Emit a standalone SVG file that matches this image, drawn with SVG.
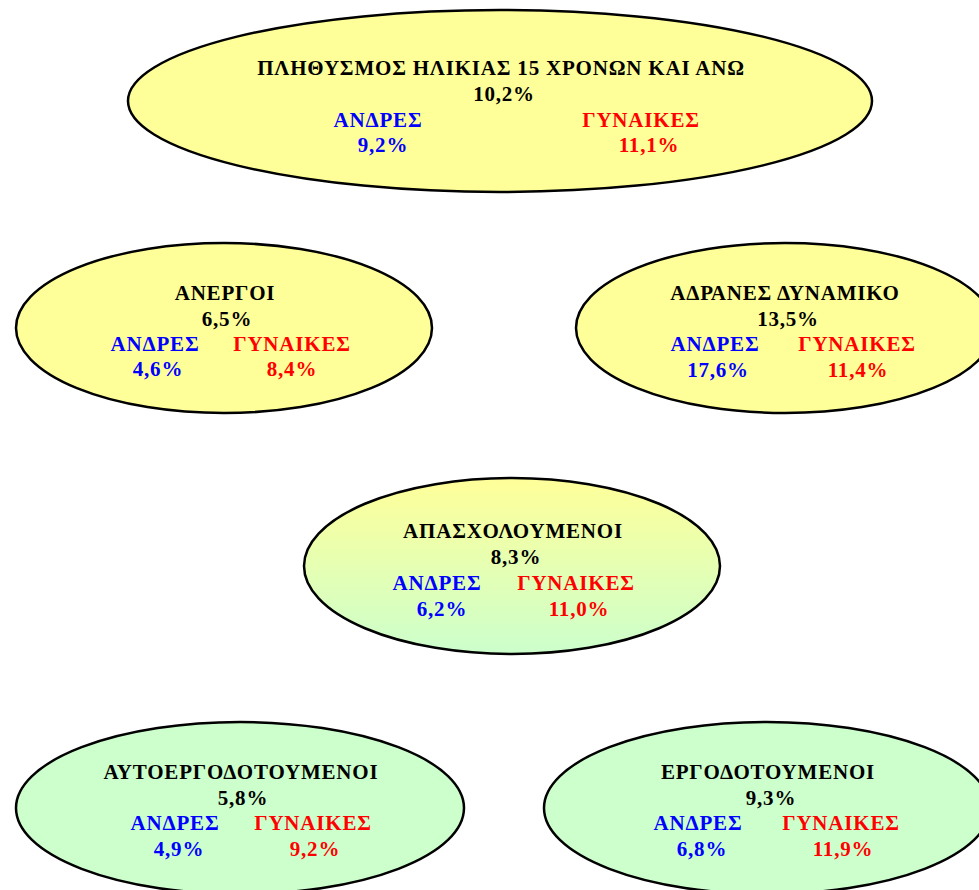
<svg xmlns="http://www.w3.org/2000/svg" width="979" height="890" viewBox="0 0 979 890">
<defs>
<linearGradient id="yg" x1="0" y1="0" x2="0" y2="1">
<stop offset="0" stop-color="#FFFF99"/>
<stop offset="1" stop-color="#CCFFCC"/>
</linearGradient>
<style>
.e{stroke:#000;stroke-width:2.5}
.y{fill:#FFFF99}
.g{fill:#CCFFCC}
text{font-family:"Liberation Serif","DejaVu Serif",serif;font-weight:bold;font-size:21px;letter-spacing:0.8px;text-anchor:middle}
.k{fill:#000}
.b{fill:#0000FF}
.r{fill:#FF0000}
</style>
</defs>
<rect width="979" height="890" fill="#fff"/>
<g id="connectors"/>
<g id="n1">
<ellipse class="e y" cx="500" cy="101" rx="372" ry="91"/>
<text class="k" x="501" y="75">ΠΛΗΘΥΣΜΟΣ ΗΛΙΚΙΑΣ 15 ΧΡΟΝΩΝ ΚΑΙ ΑΝΩ</text>
<text class="k" x="504" y="101">10,2%</text>
<text class="b" x="378" y="127">ΑΝΔΡΕΣ</text>
<text class="b" x="383" y="152">9,2%</text>
<text class="r" x="641" y="127">ΓΥΝΑΙΚΕΣ</text>
<text class="r" x="649" y="152">11,1%</text>
</g>
<g id="n2">
<ellipse class="e y" cx="224" cy="328" rx="208" ry="85"/>
<text class="k" x="225" y="300">ΑΝΕΡΓΟΙ</text>
<text class="k" x="227" y="326">6,5%</text>
<text class="b" x="155" y="351">ΑΝΔΡΕΣ</text>
<text class="b" x="158" y="376">4,6%</text>
<text class="r" x="292" y="351">ΓΥΝΑΙΚΕΣ</text>
<text class="r" x="292" y="376">8,4%</text>
</g>
<g id="n3">
<ellipse class="e y" cx="785" cy="328" rx="209" ry="85"/>
<text class="k" x="785" y="300">ΑΔΡΑΝΕΣ ΔΥΝΑΜΙΚΟ</text>
<text class="k" x="788" y="326">13,5%</text>
<text class="b" x="715" y="351">ΑΝΔΡΕΣ</text>
<text class="b" x="718" y="377">17,6%</text>
<text class="r" x="857" y="351">ΓΥΝΑΙΚΕΣ</text>
<text class="r" x="858" y="377">11,4%</text>
</g>
<g id="n4">
<ellipse class="e" fill="url(#yg)" cx="512" cy="566" rx="208" ry="88"/>
<text class="k" x="513" y="538">ΑΠΑΣΧΟΛΟΥΜΕΝΟΙ</text>
<text class="k" x="516" y="564">8,3%</text>
<text class="b" x="437" y="590">ΑΝΔΡΕΣ</text>
<text class="b" x="442" y="616">6,2%</text>
<text class="r" x="576" y="590">ΓΥΝΑΙΚΕΣ</text>
<text class="r" x="579" y="616">11,0%</text>
</g>
<g id="n5">
<ellipse class="e g" cx="240" cy="808" rx="224" ry="86"/>
<text class="k" x="241" y="779">ΑΥΤΟΕΡΓΟΔΟΤΟΥΜΕΝΟΙ</text>
<text class="k" x="243" y="805">5,8%</text>
<text class="b" x="175" y="830">ΑΝΔΡΕΣ</text>
<text class="b" x="179" y="856">4,9%</text>
<text class="r" x="313" y="830">ΓΥΝΑΙΚΕΣ</text>
<text class="r" x="315" y="856">9,2%</text>
</g>
<g id="n6">
<ellipse class="e g" cx="767" cy="808" rx="223" ry="86"/>
<text class="k" x="768" y="779">ΕΡΓΟΔΟΤΟΥΜΕΝΟΙ</text>
<text class="k" x="771" y="805">9,3%</text>
<text class="b" x="698" y="830">ΑΝΔΡΕΣ</text>
<text class="b" x="702" y="856">6,8%</text>
<text class="r" x="841" y="830">ΓΥΝΑΙΚΕΣ</text>
<text class="r" x="843" y="856">11,9%</text>
</g>
</svg>
